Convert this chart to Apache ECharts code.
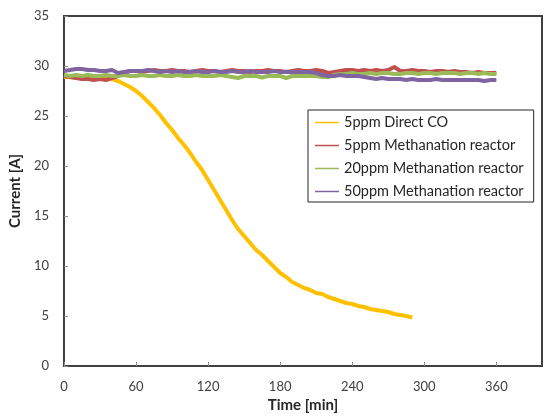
<!DOCTYPE html>
<html>
<head>
<meta charset="utf-8">
<script src="https://cdn.jsdelivr.net/npm/echarts@6/dist/echarts.min.js"></script>
<style>html,body{margin:0;padding:0;background:#fff;}#c{width:546px;height:418px;}</style>
</head>
<body>
<div id="c"></div>
<script>
var seriesNames = ["5ppm Direct CO", "5ppm Methanation reactor", "20ppm Methanation reactor", "50ppm Methanation reactor"];
var xTicks = [0, 60, 120, 180, 240, 300, 360];
var yTicks = [0, 5, 10, 15, 20, 25, 30, 35];

var tDirect = [0,5,10,15,20,25,30,35,40,45,50,55,60,65,70,75,80,85,90,95,100,105,110,115,120,125,130,135,140,145,150,155,160,165,170,175,180,185,190,195,200,205,210,215,220,225,230,235,240,245,250,255,260,265,270,275,280,285,290];
var direct5 = [28.9,28.9,28.8,28.8,28.9,28.8,28.8,28.8,28.7,28.5,28.2,27.9,27.5,27.0,26.4,25.8,25.1,24.3,23.6,22.8,22.1,21.3,20.4,19.6,18.6,17.6,16.6,15.6,14.6,13.7,13.0,12.3,11.6,11.1,10.5,9.9,9.3,8.9,8.4,8.1,7.8,7.6,7.3,7.2,6.9,6.7,6.5,6.3,6.2,6.0,5.9,5.7,5.6,5.5,5.4,5.2,5.1,5.0,4.85];

var tMeth = [0,5,10,15,20,25,30,35,40,45,50,55,60,65,70,75,80,85,90,95,100,105,110,115,120,125,130,135,140,145,150,155,160,165,170,175,180,185,190,195,200,205,210,215,220,225,230,235,240,245,250,255,260,265,270,275,280,285,290,295,300,305,310,315,320,325,330,335,340,345,350,355,360];
var meth5 = [29.0,28.9,28.8,28.7,28.7,28.6,28.7,28.6,28.8,29.0,
  29.3,29.5,29.5,29.4,29.5,29.6,29.5,29.5,29.6,29.5,
  29.5,29.4,29.5,29.6,29.5,29.5,29.4,29.5,29.6,29.5,
  29.5,29.4,29.5,29.5,29.6,29.5,29.5,29.4,29.5,29.6,
  29.5,29.5,29.6,29.5,29.3,29.4,29.5,29.6,29.6,29.5,
  29.6,29.5,29.6,29.5,29.6,29.9,29.5,29.5,29.6,29.5,
  29.5,29.4,29.5,29.5,29.4,29.5,29.4,29.4,29.3,29.4,
  29.3,29.3,29.3];
var meth20 = [29.1,29.0,29.1,29.0,29.1,29.0,29.0,29.1,29.0,29.0,
  29.1,29.0,29.0,29.1,29.0,29.0,29.1,29.0,29.0,29.1,
  29.0,29.0,29.1,29.0,29.0,29.0,29.1,29.0,28.9,28.8,
  29.0,29.0,29.0,28.85,29.0,29.0,29.0,28.8,29.0,29.0,
  29.0,29.0,29.0,28.9,28.9,29.1,29.2,29.2,29.3,29.2,
  29.2,29.3,29.2,29.3,29.3,29.2,29.2,29.3,29.3,29.2,
  29.3,29.3,29.2,29.3,29.3,29.3,29.2,29.3,29.3,29.2,
  29.3,29.2,29.2];
var meth50 = [29.5,29.6,29.7,29.7,29.6,29.6,29.5,29.5,29.6,29.3,
  29.4,29.5,29.5,29.5,29.6,29.5,29.4,29.5,29.4,29.5,
  29.4,29.4,29.5,29.4,29.4,29.5,29.4,29.4,29.5,29.4,
  29.4,29.5,29.4,29.4,29.4,29.5,29.4,29.4,29.4,29.4,
  29.4,29.4,29.3,29.1,29.0,29.0,29.1,29.0,29.0,29.0,
  28.9,28.8,28.7,28.8,28.7,28.7,28.7,28.6,28.7,28.6,
  28.6,28.6,28.7,28.6,28.6,28.6,28.6,28.6,28.6,28.6,
  28.5,28.6,28.6];

var colors = ["#FFC000", "#C0504D", "#9BBB59", "#8064A2"];

function pairs(t, v) { return t.map(function (x, i) { return [x, v[i]]; }); }

var FONT = "Lato";
var chart = echarts.init(document.getElementById('c'), null, {renderer: 'canvas'});
var mk = function (name, t, v, c) {
  return {
    name: name, type: 'line', data: pairs(t, v), showSymbol: false, symbol: 'none',
    lineStyle: {color: c, width: 4}, itemStyle: {color: c}, animation: false
  };
};
chart.setOption({
  animation: false,
  textStyle: {fontFamily: FONT},
  grid: {left: 63, right: 4, top: 16, bottom: 47, show: true, borderColor: '#404040', borderWidth: 2, backgroundColor: 'transparent'},
  xAxis: {
    type: 'value', min: 0, max: 398, interval: 60,
    name: 'Time [min]', nameLocation: 'middle', nameGap: 32,
    nameTextStyle: {fontFamily: FONT, fontWeight: 'bold', fontSize: 15, color: '#262626'},
    axisLine: {show: true, lineStyle: {color: '#404040', width: 2}},
    axisTick: {show: true, inside: true, length: 4, lineStyle: {color: '#8c8c8c'}},
    axisLabel: {showMaxLabel: false, margin: 14, fontSize: 13, color: '#404040', fontFamily: FONT,
      formatter: function (v) { return xTicks.indexOf(v) >= 0 ? String(v) : ''; }},
    splitLine: {show: false}
  },
  yAxis: {
    type: 'value', min: 0, max: 35, interval: 5,
    name: 'Current [A]', nameLocation: 'middle', nameGap: 40,
    nameTextStyle: {fontFamily: FONT, fontWeight: 'bold', fontSize: 15, color: '#262626'},
    axisLine: {show: true, lineStyle: {color: '#404040', width: 2}},
    axisTick: {show: true, inside: true, length: 4, lineStyle: {color: '#8c8c8c'}},
    axisLabel: {margin: 15, fontSize: 13, color: '#404040', fontFamily: FONT,
      formatter: function (v) { return yTicks.indexOf(v) >= 0 ? String(v) : ''; }},
    splitLine: {show: false}
  },
  legend: {
    orient: 'vertical', left: 308, top: 110,
    data: seriesNames,
    backgroundColor: '#fff', borderColor: '#262626', borderWidth: 1,
    padding: [5, 10, 3, 7], itemGap: 8, itemWidth: 24, itemHeight: 14,
    icon: 'path://M0,6 L24,6 L24,7.5 L0,7.5 Z',
    textStyle: {fontFamily: FONT, fontSize: 14.5, color: '#262626'}
  },
  series: [
    mk(seriesNames[0], tDirect, direct5, colors[0]),
    mk(seriesNames[1], tMeth, meth5, colors[1]),
    mk(seriesNames[2], tMeth, meth20, colors[2]),
    mk(seriesNames[3], tMeth, meth50, colors[3])
  ]
});
</script>
</body>
</html>
